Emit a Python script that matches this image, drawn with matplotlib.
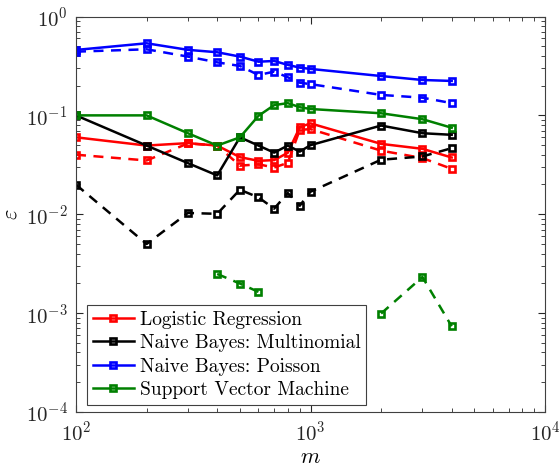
import numpy as np
import matplotlib
matplotlib.use("Agg")
import matplotlib.pyplot as plt

m = [100, 200, 300, 400, 500, 600, 700, 800, 900, 1000, 2000, 3000, 4000]
nan = np.nan

lr_solid = [0.060, 0.0495, 0.0524, 0.0495, 0.0378, 0.0347, 0.0353, 0.0418, 0.076, 0.083, 0.0515, 0.0459, 0.0375]
lr_dash = [0.040, 0.035, 0.052, 0.0495, 0.031, 0.0320, 0.0297, 0.0331, 0.0714, 0.0726, 0.044, 0.037, 0.0288]
nbm_solid = [0.100, 0.0495, 0.0329, 0.0247, 0.060, 0.0495, 0.042, 0.0495, 0.043, 0.0500, 0.0789, 0.066, 0.0636]
nbm_dash = [0.0199, 0.0050, 0.0103, 0.0101, 0.0177, 0.0148, 0.0114, 0.0164, 0.0122, 0.0169, 0.0356, 0.0384, 0.0466]
nbp_solid = [0.459, 0.536, 0.460, 0.435, 0.393, 0.349, 0.355, 0.324, 0.304, 0.295, 0.250, 0.228, 0.223]
nbp_dash = [0.441, 0.466, 0.393, 0.344, 0.316, 0.256, 0.277, 0.243, 0.214, 0.207, 0.161, 0.151, 0.133]
svm_solid = [0.100, 0.100, 0.066, 0.0495, 0.060, 0.099, 0.127, 0.133, 0.121, 0.116, 0.105, 0.0915, 0.075]
svm_dash = [nan, nan, nan, 0.00249, 0.00199, 0.00164, nan, nan, nan, nan, 0.00099, 0.00232, 0.000736]

labels = ["Logistic Regression", "Naive Bayes: Multinomial", "Naive Bayes: Poisson", "Support Vector Machine"]
colors = ["#ff0000", "#000000", "#0000ff", "#008000"]
solids = [lr_solid, nbm_solid, nbp_solid, svm_solid]
dashes = [lr_dash, nbm_dash, nbp_dash, svm_dash]

plt.rcParams['mathtext.fontset'] = 'cm'
plt.rcParams['font.family'] = ['cmr10', 'DejaVu Serif']
plt.rcParams['axes.unicode_minus'] = False
plt.rcParams['axes.formatter.use_mathtext'] = True

fig = plt.figure(figsize=(5.59, 4.75), dpi=100)
ax = fig.add_axes([76/559, (475-412)/475, (545-76)/559, (412-16.5)/475])

lw = 1.8
mk = dict(marker='s', markersize=5.0, markerfacecolor='none', markeredgewidth=1.9)
handles = []
for lab, c, s, d in zip(labels, colors, solids, dashes):
    h, = ax.plot(m, s, color=c, lw=lw, label=lab, **mk)
    ax.plot(m, d, color=c, lw=lw, dashes=(4, 3), **mk)
    handles.append(h)

ax.set_xscale('log')
ax.set_yscale('log')
ax.set_xlim(100, 10000)
ax.set_ylim(1e-4, 1)

gray = '#262626'
for sp in ax.spines.values():
    sp.set_color('#404040')
    sp.set_linewidth(0.8)
ax.tick_params(which='both', direction='in', top=True, right=True, colors=gray, labelcolor='#262626')
ax.tick_params(which='major', length=5, labelsize=15, pad=6)
ax.tick_params(which='minor', length=3)

ax.set_xlabel(r'$m$', fontsize=16, labelpad=2)
ax.set_ylabel(r'$\varepsilon$', fontsize=16, labelpad=4)

leg = ax.legend(handles=handles, loc='lower left', bbox_to_anchor=(0.0235, 0.018),
                borderaxespad=0, fancybox=False, fontsize=14, handlelength=2.1,
                handletextpad=0.3, borderpad=0.3, labelspacing=0.28, framealpha=1,
                markerscale=0.9)
leg.get_frame().set_edgecolor('#404040')
leg.get_frame().set_linewidth(0.8)

fig.savefig('out.png', dpi=100)
